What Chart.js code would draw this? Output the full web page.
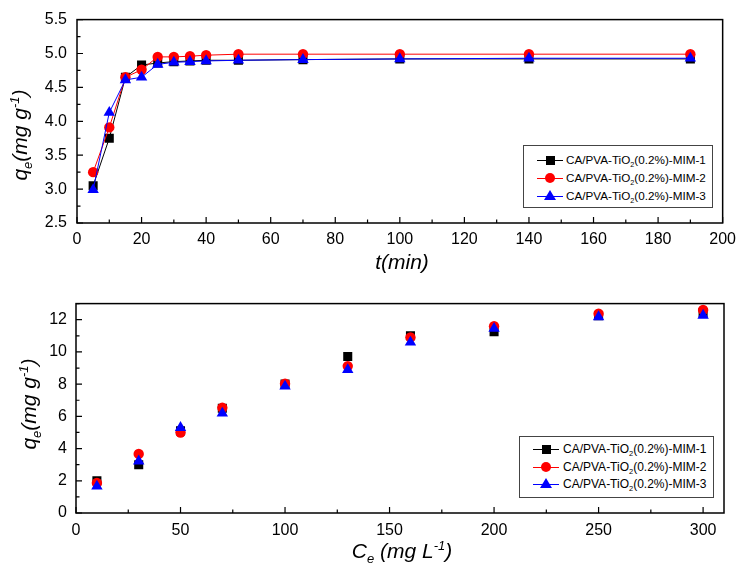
<!DOCTYPE html>
<html>
<head>
<meta charset="utf-8">
<script src="https://cdn.jsdelivr.net/npm/chart.js@4.4.1/dist/chart.umd.min.js"></script>
<style>
    html, body { margin: 0; padding: 0; background: #fff; }
    body { width: 743px; height: 573px; position: relative; overflow: hidden; font-family: Arial, "Liberation Sans", sans-serif; }
    .panel { position: absolute; left: 0; width: 743px; }
    .axis-title { position: absolute; font-style: italic; font-size: 21px; color: #000; white-space: nowrap; transform: translate(-50%, -50%); }
    .axis-title.rot { transform: translate(-50%, -50%) rotate(-90deg); }
    .axis-title sub, .axis-title sup { font-size: 13px; }
    .legend { position: absolute; border: 1px solid #444; background: #fff; color: #000; }
    .legend .row { position: absolute; left: 0; height: 14px; width: 100%; }
    .legend .line { position: absolute; left: 13px; top: 7px; width: 26px; height: 1px; }
    .legend .mark { position: absolute; }
    .legend .txt { position: absolute; left: 43px; top: 0; white-space: nowrap; line-height: 14px; }
    .legend sub { font-size: 0.62em; }
</style>
</head>
<body>

<div class="panel" style="top:0;height:285px;"><canvas id="kinetic-chart" width="743" height="285"></canvas></div>
<div class="panel" style="top:285px;height:288px;"><canvas id="isotherm-chart" width="743" height="288"></canvas></div>

<div class="axis-title" style="left:402px;top:262px;">t(min)</div>
<div class="axis-title rot" style="left:21px;top:135px;">q<sub>e</sub>(mg g<sup>-1</sup>)</div>
<div class="axis-title" style="left:402px;top:552px;">C<sub>e</sub> (mg L<sup>-1</sup>)</div>
<div class="axis-title rot" style="left:30px;top:404px;">q<sub>e</sub>(mg g<sup>-1</sup>)</div>

<div class="legend" id="legend-top" style="left:523px;top:145px;width:188px;height:61px;font-size:11.7px;"></div>
<div class="legend" id="legend-bottom" style="left:519px;top:436px;width:193px;height:60px;font-size:12px;"></div>

<script>
// Kinetics (top panel)
const timeMin = [5, 10, 15, 20, 25, 30, 35, 40, 50, 70, 100, 140, 190];
const qeKinetic1 = [3.05, 3.75, 4.65, 4.83, 4.86, 4.88, 4.89, 4.90, 4.90, 4.91, 4.92, 4.92, 4.92];
const qeKinetic2 = [3.25, 3.91, 4.65, 4.76, 4.95, 4.95, 4.96, 4.975, 4.99, 4.99, 4.99, 4.99, 4.99];
const qeKinetic3 = [2.99, 4.13, 4.61, 4.65, 4.84, 4.87, 4.88, 4.89, 4.90, 4.91, 4.92, 4.93, 4.93];

// Isotherm (bottom panel)
const ceConc = [10, 30, 50, 70, 100, 130, 160, 200, 250, 300];
const qeIso1 = [2.0, 2.99, 5.1, 6.5, 8.0, 9.71, 11.0, 11.25, 12.25, 12.45];
const qeIso2 = [1.86, 3.67, 5.0, 6.53, 8.03, 9.12, 10.9, 11.6, 12.37, 12.6];
const qeIso3 = [1.66, 3.22, 5.3, 6.19, 7.87, 8.89, 10.6, 11.45, 12.17, 12.27];

const seriesNames = [
    'CA/PVA-TiO<sub>2</sub>(0.2%)-MIM-1',
    'CA/PVA-TiO<sub>2</sub>(0.2%)-MIM-2',
    'CA/PVA-TiO<sub>2</sub>(0.2%)-MIM-3'
];
const seriesColors = ['#000000', '#ff0000', '#0000ff'];
const seriesMarkers = ['rect', 'circle', 'triangle'];
const markerRadius = [6.4, 5.2, 6.6];

// Box around plot area + inward major/minor ticks
const frameTicks = {
    id: 'frameTicks',
    afterDraw(chart, args, opts) {
        const { ctx, chartArea: a, scales } = chart;
        ctx.save();
        ctx.strokeStyle = '#000';
        ctx.lineWidth = 1.5;
        ctx.strokeRect(a.left, a.top, a.right - a.left, a.bottom - a.top);
        ctx.lineWidth = 1.2;
        ctx.beginPath();
        const xs = scales.x;
        const xn = Math.round((xs.max - xs.min) / opts.xMinor);
        for (let k = 0; k <= xn; k++) {
            const v = xs.min + k * opts.xMinor;
            const major = Math.abs(v / opts.xMajor - Math.round(v / opts.xMajor)) < 1e-6;
            const px = xs.getPixelForValue(v);
            ctx.moveTo(px, a.bottom);
            ctx.lineTo(px, a.bottom - (major ? 6 : 3.5));
        }
        const ys = scales.y;
        const yn = Math.round((ys.max - ys.min) / opts.yMinor);
        for (let k = 0; k <= yn; k++) {
            const v = ys.min + k * opts.yMinor;
            const major = Math.abs(v / opts.yMajor - Math.round(v / opts.yMajor)) < 1e-6;
            const py = ys.getPixelForValue(v);
            ctx.moveTo(a.left, py);
            ctx.lineTo(a.left + (major ? 6 : 3.5), py);
        }
        ctx.stroke();
        ctx.restore();
    }
};

function makeDatasets(xValues, yLists, showLine) {
    return yLists.map((ys, i) => ({
        label: seriesNames[i],
        data: xValues.map((x, j) => ({ x: x, y: ys[j] })),
        borderColor: seriesColors[i],
        backgroundColor: seriesColors[i],
        borderWidth: 1,
        showLine: showLine,
        pointStyle: seriesMarkers[i],
        pointRadius: markerRadius[i],
        pointBorderWidth: 0,
        order: 2 - i
    }));
}

function makeOptions(axis) {
    const tickFont = { family: 'Arial, "Liberation Sans", sans-serif', size: 16 };
    return {
        responsive: false,
        animation: false,
        layout: { padding: { top: axis.padTop, right: axis.padRight, left: 0, bottom: 0 } },
        plugins: {
            legend: { display: false },
            tooltip: { enabled: false },
            frameTicks: { xMajor: axis.xMajor, xMinor: axis.xMinor, yMajor: axis.yMajor, yMinor: axis.yMinor }
        },
        scales: {
            x: {
                type: 'linear',
                min: axis.xMin,
                max: axis.xMax,
                grid: { display: false, drawTicks: false },
                border: { display: false },
                ticks: {
                    stepSize: axis.xMajor,
                    includeBounds: false,
                    padding: axis.xPad,
                    color: '#000',
                    font: tickFont,
                    maxRotation: 0
                },
                afterFit: s => { s.height = axis.xHeight; }
            },
            y: {
                type: 'linear',
                min: axis.yMin,
                max: axis.yMax,
                grid: { display: false, drawTicks: false },
                border: { display: false },
                ticks: {
                    stepSize: axis.yMajor,
                    includeBounds: false,
                    padding: axis.yPad,
                    color: '#000',
                    font: tickFont,
                    callback: v => axis.yDecimals ? v.toFixed(axis.yDecimals) : String(v)
                },
                afterFit: s => { s.width = axis.yWidth; }
            }
        }
    };
}

new Chart(document.getElementById('kinetic-chart').getContext('2d'), {
    type: 'scatter',
    data: { datasets: makeDatasets(timeMin, [qeKinetic1, qeKinetic2, qeKinetic3], true) },
    options: makeOptions({
        xMin: 0, xMax: 200, xMajor: 20, xMinor: 10,
        yMin: 2.5, yMax: 5.5, yMajor: 0.5, yMinor: 0.25, yDecimals: 1,
        padTop: 10, padRight: 18, xHeight: 62, yWidth: 77, xPad: 7, yPad: 10
    }),
    plugins: [frameTicks]
});

new Chart(document.getElementById('isotherm-chart').getContext('2d'), {
    type: 'scatter',
    data: { datasets: makeDatasets(ceConc, [qeIso1, qeIso2, qeIso3], false) },
    options: makeOptions({
        xMin: 0, xMax: 310, xMajor: 50, xMinor: 25,
        yMin: 0, yMax: 13, yMajor: 2, yMinor: 1, yDecimals: 0,
        padTop: 17, padRight: 19, xHeight: 60, yWidth: 76, xPad: 8, yPad: 9
    }),
    plugins: [frameTicks]
});

// HTML legends (need subscript text)
function buildLegend(id, rowTops, lineLeft, textLeft) {
    const box = document.getElementById(id);
    seriesNames.forEach((name, i) => {
        const row = document.createElement('div');
        row.className = 'row';
        row.style.top = rowTops[i] + 'px';
        const line = document.createElement('div');
        line.className = 'line';
        line.style.left = lineLeft + 'px';
        line.style.background = seriesColors[i];
        const mark = document.createElement('div');
        mark.className = 'mark';
        const mid = lineLeft + 13;
        if (i === 0) {
            Object.assign(mark.style, { left: (mid - 4.5) + 'px', top: '2.5px', width: '9px', height: '9px', background: seriesColors[i] });
        } else if (i === 1) {
            Object.assign(mark.style, { left: (mid - 5) + 'px', top: '2px', width: '10px', height: '10px', borderRadius: '50%', background: seriesColors[i] });
        } else {
            Object.assign(mark.style, { left: (mid - 6) + 'px', top: '1px', width: 0, height: 0,
                borderLeft: '6px solid transparent', borderRight: '6px solid transparent',
                borderBottom: '10px solid ' + seriesColors[i] });
        }
        const txt = document.createElement('div');
        txt.className = 'txt';
        txt.style.left = textLeft + 'px';
        txt.innerHTML = name;
        row.appendChild(line);
        row.appendChild(mark);
        row.appendChild(txt);
        box.appendChild(row);
    });
}

buildLegend('legend-top', [7, 25, 43], 13, 42);
buildLegend('legend-bottom', [5, 23, 40], 13, 43);
</script>
</body>
</html>
